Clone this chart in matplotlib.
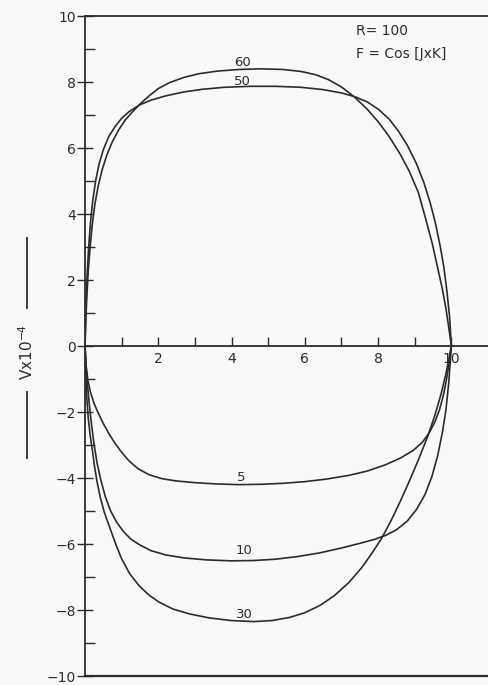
import matplotlib
matplotlib.use("Agg")
import matplotlib.pyplot as plt
from matplotlib.lines import Line2D
from matplotlib.ticker import FixedLocator

plt.rcParams['font.family'] = ['DejaVu Sans']

# velocity profiles across the channel, upper family (positive V)
x60 = [0, 0.02, 0.05, 0.09, 0.14, 0.2, 0.27, 0.36, 0.47, 0.6, 0.75, 0.92, 1.1, 1.3, 1.5,
       1.75, 2.0, 2.3, 2.7, 3.1, 3.6, 4.2, 4.8, 5.4, 5.9, 6.3, 6.65, 7.0, 7.35, 7.7, 8.0,
       8.3, 8.6, 8.85, 9.1, 9.3, 9.48, 9.62, 9.75, 9.85, 9.93, 10]
v60 = [0, 0.7, 1.5, 2.3, 3.0, 3.7, 4.3, 4.85, 5.35, 5.8, 6.2, 6.55, 6.85, 7.1, 7.33,
       7.58, 7.8, 7.98, 8.14, 8.25, 8.33, 8.38, 8.4, 8.38, 8.32, 8.22, 8.07, 7.85, 7.55, 7.18, 6.8,
       6.35, 5.82, 5.3, 4.65, 3.85, 3.1, 2.4, 1.75, 1.15, 0.55, 0]

x50 = [0, 0.01, 0.03, 0.06, 0.1, 0.15, 0.21, 0.29, 0.38, 0.5, 0.65, 0.82, 1.0, 1.2, 1.48,
       1.8, 2.2, 2.7, 3.2, 3.8, 4.5, 5.2, 5.9, 6.5, 7.0, 7.35, 7.7, 8.0, 8.3, 8.55,
       8.8, 9.05, 9.25, 9.42, 9.57, 9.7, 9.8, 9.88, 9.95, 10]
v50 = [0, 0.5, 1.3, 2.2, 3.0, 3.75, 4.4, 5.0, 5.5, 5.95, 6.35, 6.65, 6.9, 7.1, 7.3,
       7.45, 7.58, 7.7, 7.78, 7.84, 7.87, 7.87, 7.84, 7.77, 7.67, 7.56, 7.4, 7.18, 6.88, 6.52,
       6.08, 5.52, 4.95, 4.35, 3.7, 3.0, 2.35, 1.65, 0.9, 0]

# lower family (negative V)
x5 = [0, 0.03, 0.08, 0.15, 0.25, 0.37, 0.5, 0.65, 0.82, 1.0, 1.2, 1.45, 1.75, 2.1, 2.5,
      3.0, 3.6, 4.2, 4.8, 5.4, 6.0, 6.6, 7.2, 7.7, 8.2, 8.6, 8.95, 9.2, 9.4, 9.55,
      9.68, 9.78, 9.87, 9.94, 10]
v5 = [0, -0.6, -1.05, -1.4, -1.75, -2.05, -2.35, -2.65, -2.95, -3.22, -3.48, -3.72, -3.9, -4.02, -4.09,
      -4.14, -4.18, -4.2, -4.19, -4.16, -4.11, -4.03, -3.92, -3.79, -3.6, -3.4, -3.17, -2.93, -2.62, -2.3,
      -1.92, -1.5, -1.0, -0.5, 0]

x10 = [0, 0.03, 0.07, 0.12, 0.18, 0.25, 0.33, 0.43, 0.55, 0.7, 0.87, 1.05, 1.25, 1.5, 1.8,
       2.2, 2.7, 3.3, 4.0, 4.6, 5.2, 5.8, 6.4, 7.0, 7.5, 7.9, 8.2, 8.5, 8.8, 9.05,
       9.28, 9.47, 9.62, 9.75, 9.85, 9.93, 10]
v10 = [0, -0.6, -1.2, -1.8, -2.4, -3.0, -3.55, -4.05, -4.55, -5.0, -5.35, -5.62, -5.85, -6.03, -6.2,
       -6.33, -6.42, -6.48, -6.51, -6.5, -6.46, -6.38, -6.27, -6.12, -5.98, -5.86, -5.74, -5.57, -5.3, -4.95,
       -4.5, -3.95, -3.35, -2.65, -1.95, -1.1, 0]

x30 = [0, 0.02, 0.05, 0.09, 0.14, 0.2, 0.26, 0.33, 0.42, 0.53, 0.66, 0.82, 1.0, 1.22, 1.48,
       1.75, 2.02, 2.4, 2.86, 3.4, 4.0, 4.6, 5.1, 5.6, 6.0, 6.4, 6.8, 7.2, 7.55, 7.85,
       8.1, 8.35, 8.6, 8.85, 9.1, 9.35, 9.55, 9.72, 9.85, 9.94, 10]
v30 = [0, -0.8, -1.6, -2.2, -2.7, -3.15, -3.65, -4.12, -4.6, -5.05, -5.45, -5.95, -6.45, -6.9, -7.27,
       -7.55, -7.76, -7.97, -8.12, -8.24, -8.32, -8.35, -8.32, -8.22, -8.08, -7.87, -7.57, -7.17, -6.72, -6.25,
       -5.82, -5.3, -4.72, -4.1, -3.45, -2.75, -2.1, -1.45, -0.85, -0.35, 0]

curve_labels = ['60', '50', '5', '10', '30']
label_x = [4.29, 4.29, 4.26, 4.34, 4.34]
label_y = [8.6, 8.03, -3.97, -6.2, -8.15]

x_ticks = [1, 2, 3, 4, 5, 6, 7, 8, 9, 10]
x_ticklabels = ['', '2', '', '4', '', '6', '', '8', '', '10']
y_major = list(range(-10, 11, 2))
y_minor = list(range(-9, 10, 2))

ink = '#2b2b2b'
paper = '#f9faf8'

fig = plt.figure(figsize=(4.88, 6.85), dpi=100, facecolor=paper)
ax = fig.add_axes([0.1742, 0.0131, 0.8258, 0.9635])
ax.set_facecolor(paper)

for xs, vs in [(x60, v60), (x50, v50), (x5, v5), (x10, v10), (x30, v30)]:
    ax.plot(xs, vs, color=ink, lw=1.2, solid_joinstyle='round')

for t, lx, ly in zip(curve_labels, label_x, label_y):
    ax.text(lx, ly, t, ha='center', va='center', fontsize=9.5, color=ink)

ax.set_xlim(0, 11)
ax.set_ylim(-10, 10)

# x axis runs through V = 0, frame kept on top, bottom and left
ax.spines['bottom'].set_position(('data', 0))
ax.spines['right'].set_visible(False)
for s in ['bottom', 'top', 'left']:
    ax.spines[s].set_color(ink)
    ax.spines[s].set_linewidth(1.3)
ax.axhline(-10, color=ink, lw=1.6, clip_on=False)

ax.xaxis.set_major_locator(FixedLocator(x_ticks))
ax.set_xticklabels(x_ticklabels)
ax.tick_params(axis='x', which='major', direction='in', length=6.5, width=1.0,
               colors=ink, labelsize=10, pad=4)

ax.yaxis.set_major_locator(FixedLocator(y_major))
ax.yaxis.set_minor_locator(FixedLocator(y_minor))
ax.set_yticklabels([str(v).replace('-', '\u2212') for v in y_major])
ax.tick_params(axis='y', which='major', direction='inout', length=11, width=1.0,
               colors=ink, labelsize=10, pad=1)
ax.tick_params(axis='y', which='minor', direction='in', length=7, width=1.0, colors=ink)

ax.text(7.4, 9.55, 'R= 100', fontsize=10, color=ink, va='center')
ax.text(7.4, 8.85, 'F = Cos [JxK]', fontsize=10, color=ink, va='center')

# rotated axis title with rules above and below
fig.text(27 / 488, 1 - 352 / 685, 'Vx10$^{-4}$', rotation=90, ha='center', va='center',
         fontsize=11, color=ink)
fig.add_artist(Line2D([27 / 488, 27 / 488], [1 - 238 / 685, 1 - 308 / 685], color=ink, lw=1.3))
fig.add_artist(Line2D([27 / 488, 27 / 488], [1 - 392 / 685, 1 - 458 / 685], color=ink, lw=1.3))

plt.savefig("out.png", dpi=100, facecolor=fig.get_facecolor())
plt.close()
